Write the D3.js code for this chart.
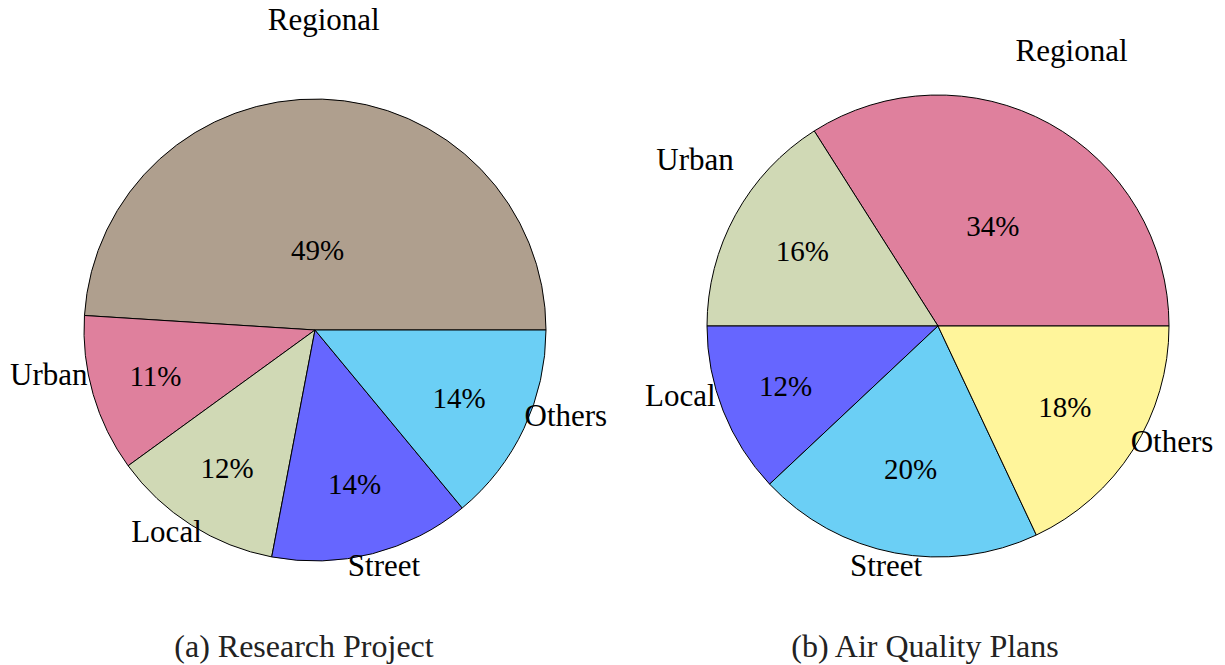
<!DOCTYPE html>
<html>
<head>
<meta charset="utf-8">
<script src="https://cdn.jsdelivr.net/npm/d3@7"></script>
<style>
  body { margin: 0; background: #fff; }
  svg text { font-family: "Liberation Serif", "Times New Roman", serif; }
</style>
</head>
<body>
<div id="chart"></div>
<script>
// data
const categoriesA = ["Regional", "Urban", "Local", "Street", "Others"];
const valuesA = [49, 11, 12, 14, 14];
const colorsA = ["#AF9F8E", "#DF809D", "#D0D9B5", "#6666FF", "#6BCFF5"];
const captionA = "(a) Research Project";

const categoriesB = ["Regional", "Urban", "Local", "Street", "Others"];
const valuesB = [34, 16, 12, 20, 18];
const colorsB = ["#DF809D", "#D0D9B5", "#6666FF", "#6BCFF5", "#FFF59B"];
const captionB = "(b) Air Quality Plans";

const width = 1225, height = 665;
const radius = 231;

const svg = d3.select("#chart")
    .append("svg")
    .attr("width", width)
    .attr("height", height);

// pgf-pie style: start at east, go counterclockwise
function drawPie(cx, cy, categories, values, colors, caption, capX) {
    const g = svg.append("g").attr("transform", `translate(${cx}, ${cy})`);

    const pie = d3.pie()
        .sort(null)
        .value(d => d.value)
        .startAngle(Math.PI / 2)
        .endAngle(Math.PI / 2 - 2 * Math.PI);

    const data = categories.map((c, i) => ({ name: c, value: values[i], color: colors[i] }));
    const arcs = pie(data);

    const arc = d3.arc().innerRadius(0).outerRadius(radius);

    g.selectAll("path.slice")
        .data(arcs)
        .enter()
        .append("path")
        .attr("class", "slice")
        .attr("d", arc)
        .attr("fill", d => d.data.color)
        .attr("stroke", "#000")
        .attr("stroke-width", 1);

    // position helper: d3 angle (clockwise from north) -> x,y
    const pt = (a, r) => [r * Math.sin(a), -r * Math.cos(a)];

    // percent labels, inner radius shrinks for bigger slices
    g.selectAll("text.pct")
        .data(arcs)
        .enter()
        .append("text")
        .attr("class", "pct")
        .attr("text-anchor", "middle")
        .attr("dominant-baseline", "central")
        .style("font-size", "29px")
        .attr("transform", d => {
            const mid = (d.startAngle + d.endAngle) / 2;
            const deg = Math.abs(d.endAngle - d.startAngle) * 180 / Math.PI;
            const k = Math.max(Math.min((deg - 10) / 110 * -0.3, 0), -0.5) + 0.8;
            const [x, y] = pt(mid, radius * k);
            return `translate(${x}, ${y})`;
        })
        .text(d => d.data.value + "%");

    // outer labels
    g.selectAll("text.lbl")
        .data(arcs)
        .enter()
        .append("text")
        .attr("class", "lbl")
        .attr("text-anchor", "middle")
        .attr("dominant-baseline", "central")
        .style("font-size", "31px")
        .attr("transform", d => {
            const mid = (d.startAngle + d.endAngle) / 2;
            const [x, y] = pt(mid, radius * 1.2);
            return `translate(${x}, ${y - 33})`;
        })
        .text(d => d.data.name);

    svg.append("text")
        .attr("x", capX)
        .attr("y", 657)
        .attr("text-anchor", "middle")
        .style("font-size", "32px")
        .attr("fill", "#222")
        .text(caption);
}

drawPie(315, 330, categoriesA, valuesA, colorsA, captionA, 304);
drawPie(938, 326, categoriesB, valuesB, colorsB, captionB, 925);
</script>
</body>
</html>
